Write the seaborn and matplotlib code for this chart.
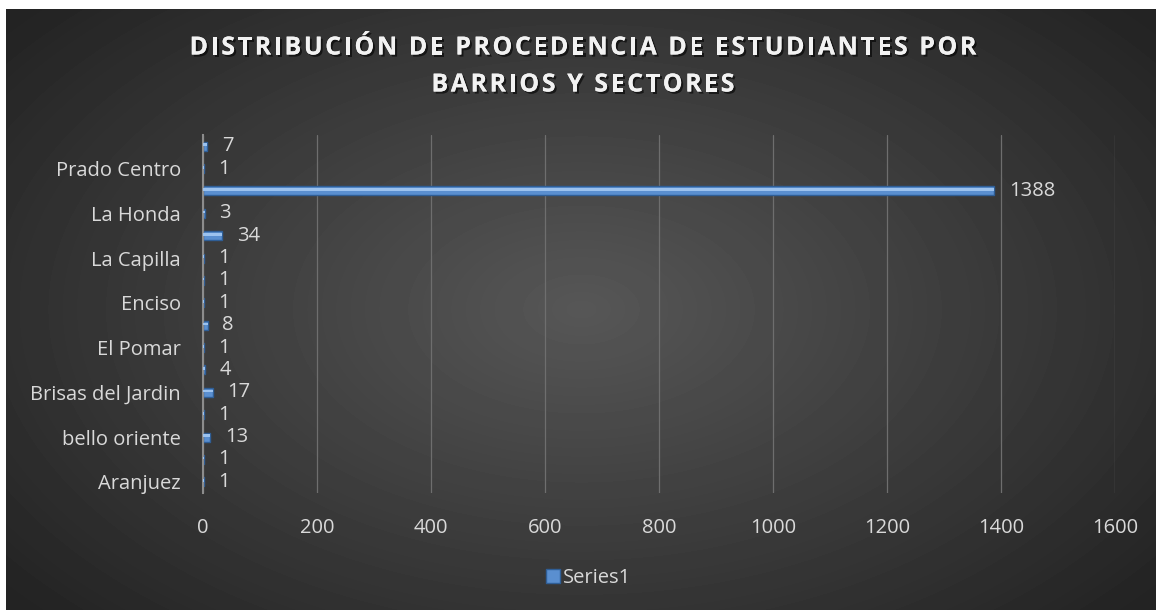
import numpy as np
import pandas as pd
import seaborn as sns
import matplotlib
matplotlib.use('Agg')
import matplotlib.pyplot as plt
import matplotlib.patheffects as pe
from matplotlib.lines import Line2D

# categories from top to bottom (Excel only shows every other name)
barrios = ['(sin nombre 8)', 'Prado Centro', '(sin nombre 7)', 'La Honda',
           '(sin nombre 6)', 'La Capilla', '(sin nombre 5)', 'Enciso',
           '(sin nombre 4)', 'El Pomar', '(sin nombre 3)', 'Brisas del Jardin',
           '(sin nombre 2)', 'bello oriente', '(sin nombre 1)', 'Aranjuez']
estudiantes = [7, 1, 1388, 3, 34, 1, 1, 1, 8, 1, 4, 17, 1, 13, 1, 1]
x_ticks = [0, 200, 400, 600, 800, 1000, 1200, 1400, 1600]
title_lines = ['DISTRIBUCIÓN DE PROCEDENCIA DE ESTUDIANTES POR',
               'BARRIOS Y SECTORES']

sns.set_style('dark')
plt.rcParams['font.family'] = ['Open Sans', 'DejaVu Sans']
text_color = '#d9d9d9'
fs = 14.5

fig = plt.figure(figsize=(11.56, 6.10), dpi=100)
fig.patch.set_facecolor('white')

# radial dark gradient background
bg = fig.add_axes([0, 0, 1, 1], zorder=-5)
yy, xx = np.mgrid[0:601, 0:1150]
r = np.sqrt(((xx - 575) / 700.0) ** 2 + ((yy - 300) / 420.0) ** 2)
shade = np.clip(0.34 - 0.19 * r, 0.14, 0.34)
bg.imshow(shade, cmap='gray', vmin=0, vmax=1, extent=[6, 1156, 0, 601],
          aspect='auto', interpolation='bilinear')
bg.set_xlim(0, 1156)
bg.set_ylim(0, 610)
bg.axis('off')

ax = fig.add_axes([0.1756, 0.1918, 0.7889, 0.5869])
ax.patch.set_alpha(0)

df = pd.DataFrame({'barrio': barrios, 'estudiantes': estudiantes})
sns.barplot(data=df, x='estudiantes', y='barrio', orient='h', ax=ax,
            color='#5a8fd0', width=0.4, edgecolor='#2f5e96', linewidth=1.0,
            saturation=1)
for bar in ax.patches:
    ax.barh(bar.get_y() + bar.get_height() * 0.35, bar.get_width(),
            height=bar.get_height() * 0.3, left=0, color='#9cc2ee',
            linewidth=0, zorder=3)

for i, v in enumerate(estudiantes):
    ax.text(v + 26, i, str(v), va='center', ha='left', fontsize=fs,
            color=text_color, zorder=4)

ax.set_xlim(0, 1600)
ax.set_ylim(len(barrios) - 0.5, -0.5)
ax.set_xticks(x_ticks)
ax.set_xticklabels([str(t) for t in x_ticks], fontsize=fs, color=text_color)
ax.tick_params(axis='x', length=0, pad=18)
ax.grid(axis='x', color='#6e6e6e', linewidth=0.9)
ax.grid(axis='y', visible=False)
ax.set_axisbelow(True)

shown = [b if not b.startswith('(') else '' for b in barrios]
ax.set_yticks(range(len(barrios)))
ax.set_yticklabels(shown, fontsize=fs, color=text_color)
ax.tick_params(axis='y', which='major', length=0, pad=16)
ax.set_yticks(np.arange(-0.5, len(barrios), 1.0), minor=True)
ax.tick_params(axis='y', which='minor', length=7, width=1.5, color='#8c8c8c',
               direction='out')

for side in ['top', 'right', 'bottom']:
    ax.spines[side].set_visible(False)
ax.spines['left'].set_color('#8c8c8c')
ax.spines['left'].set_linewidth(1.5)
ax.set_xlabel('')
ax.set_ylabel('')

# letter-spaced title, drawn char by char
renderer = fig.canvas.get_renderer()
spacing = 2.5
shadow = [pe.withSimplePatchShadow(offset=(1.5, -1.5), shadow_rgbFace='black',
                                   alpha=0.6), pe.Normal()]
for line, yc in zip(title_lines, [48, 85]):
    widths = []
    for ch in line:
        t = fig.text(0, 0, ch, fontsize=18, fontweight='bold')
        widths.append(t.get_window_extent(renderer).width)
        t.remove()
    total = sum(widths) + spacing * (len(line) - 1)
    x = 583 - total / 2
    for ch, w in zip(line, widths):
        fig.text(x / 1156, 1 - yc / 610, ch, fontsize=18, fontweight='bold',
                 color='#f2f2f2', ha='left', va='center',
                 path_effects=shadow)
        x += w + spacing

handle = Line2D([], [], marker='s', linestyle='none', markersize=10,
                markerfacecolor='#5a8fd0', markeredgecolor='#2f5e96')
leg = fig.legend([handle], ['Series1'], loc='center', bbox_to_anchor=(0.508, 0.052),
                 frameon=False, fontsize=fs, handletextpad=0.0,
                 handlelength=1.0)
for t in leg.get_texts():
    t.set_color(text_color)

fig.savefig('out.png', dpi=100, facecolor=fig.get_facecolor())
